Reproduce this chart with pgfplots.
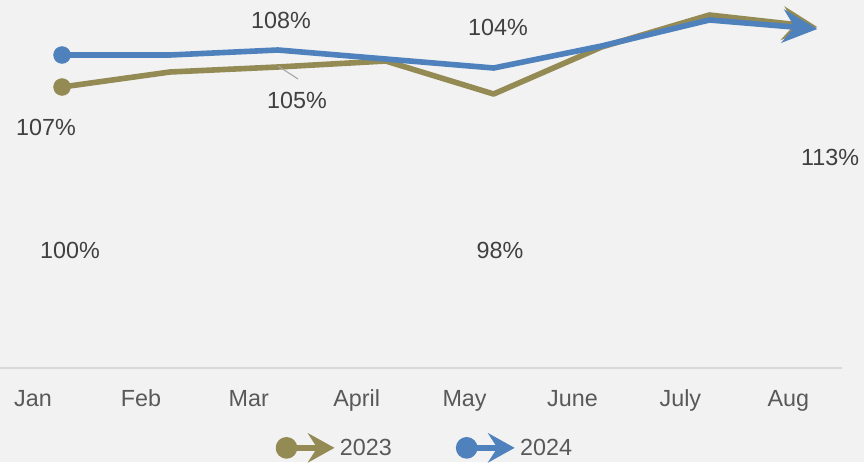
\documentclass[border=0pt]{standalone}
\usepackage{pgfplots}
\pgfplotsset{compat=1.18}
\usepackage{fontspec}
\setmainfont{Liberation Sans}
\usetikzlibrary{arrows.meta}

\definecolor{bgcol}{HTML}{F2F2F2}
\definecolor{olive23}{HTML}{948A54}
\definecolor{blue24}{HTML}{4F81BD}
\definecolor{axisgray}{HTML}{D9D9D9}
\definecolor{ticktext}{HTML}{595959}
\definecolor{labeltext}{HTML}{404040}
\definecolor{leader}{HTML}{A6A6A6}

\newcommand{\bigfont}{\fontsize{17.5}{21}\selectfont}

\begin{document}
\begin{tikzpicture}
\fill[bgcol] (0,0) rectangle (648pt,346.5pt);
\begin{axis}[
    at={(0pt,70.5pt)}, anchor=south west,
    scale only axis,
    width=631.5pt, height=276pt,
    xmin=-0.575, xmax=7.229,
    ymin=0, ymax=368,
    clip=false,
    axis x line*=bottom,
    axis y line=none,
    x axis line style={draw=axisgray, line width=1pt},
    xtick={-0.269,0.731,1.731,2.731,3.731,4.731,5.731,6.731},
    xticklabels={Jan,Feb,Mar,April,May,June,July,Aug},
    major tick length=0pt,
    ytick=\empty,
    xticklabel style={anchor=base, yshift=-28.5pt, font=\bigfont, text=ticktext},
    legend columns=2,
    legend style={at={(0.505,-0.217)}, anchor=center, draw=none, fill=none,
        font=\bigfont, text=ticktext,
        /tikz/every even column/.append style={column sep=46pt}},
    every axis plot/.append style={line width=4.2pt, line join=round},
]
% 2023
\addplot[olive23, mark=*, mark indices={1}, mark size=6.3pt,
    mark options={line width=0.5pt, fill=olive23},
    -{Stealth[length=26pt, width=25pt, inset=9pt]},
    legend image code/.code={
        \draw[olive23, line width=4.2pt, -{Stealth[length=20pt, width=22pt, inset=7pt]}] (0pt,0pt) -- (36pt,0pt);
        \fill[olive23] (0pt,0pt) circle (6pt);}]
    coordinates {(0,281) (1,296) (2,301) (3,307) (4,274) (5,321) (6,353) (7,341)};
\addlegendentry{2023}
% 2024
\addplot[blue24, mark=*, mark indices={1}, mark size=6.3pt,
    mark options={line width=0.5pt, fill=blue24},
    -{Stealth[length=26pt, width=25pt, inset=9pt]},
    legend image code/.code={
        \draw[blue24, line width=4.2pt, -{Stealth[length=20pt, width=22pt, inset=7pt]}] (0pt,0pt) -- (36pt,0pt);
        \fill[blue24] (0pt,0pt) circle (6pt);}]
    coordinates {(0,313) (1,313) (2,318) (3,309) (4,300) (5,322) (6,348) (7,339)};
\addlegendentry{2024}

% data labels
\draw[leader, line width=0.8pt] (axis cs:2.002,302) -- (axis cs:2.187,289);
\begin{scope}[every node/.style={font=\bigfont, text=labeltext}]
\node at (axis cs:-0.148,241) {107\%};
\node at (axis cs:0.074,118) {100\%};
\node at (axis cs:4.059,118) {98\%};
\node at (axis cs:7.118,211) {113\%};
\node at (axis cs:2.030,348) {108\%};
\node at (axis cs:2.178,268) {105\%};
\node at (axis cs:4.041,341) {104\%};
\end{scope}
\end{axis}
\pgfresetboundingbox
\path[use as bounding box] (0,0) rectangle (648pt,346.5pt);
\end{tikzpicture}
\end{document}
